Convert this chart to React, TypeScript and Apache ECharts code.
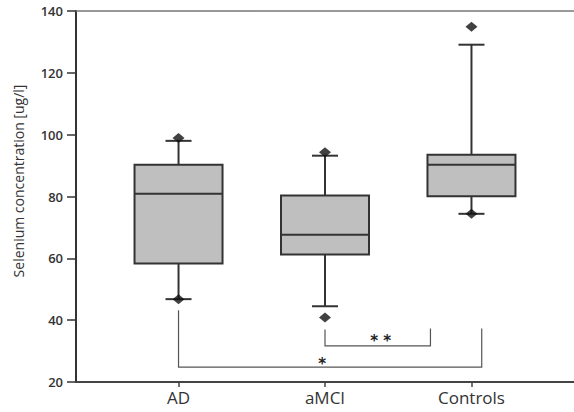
import React, { useEffect, useRef } from "react";
import * as echarts from "echarts";

const categories = ["AD", "aMCI", "Controls"];
// [position, min, Q1, median, Q3, max]
const boxStats = [
  [0, 46.8, 58.3, 80.9, 90.3, 98.0],
  [1, 44.5, 61.2, 67.6, 80.3, 93.2],
  [2, 74.4, 80.1, 90.3, 93.5, 129.1],
];
// diamond markers [position, value]
const diamonds = [
  [0, 98.9],
  [0, 46.8],
  [1, 94.3],
  [1, 40.9],
  [2, 134.9],
  [2, 74.4],
];
// significance brackets [xLeft, xRight, yLeftTop, yBottom, yRightTop]
const brackets = [
  [0, 2.07, 43.2, 24.8, 37.3],
  [1, 1.72, 37.0, 31.7, 37.3],
];
const starLabels = ["*", "* *"];
const starPositions = [
  [0.98, 25.8],
  [1.38, 33.2],
];
const yTicks = [20, 40, 60, 80, 100, 120, 140];

export default function App() {
  const ref = useRef<HTMLDivElement>(null);
  useEffect(() => {
    if (!ref.current) return;
    const chart = echarts.init(ref.current, null, { renderer: "svg" });
    const dark = "#333";
    chart.setOption({
      animation: false,
      grid: { left: 76, right: 0, top: 11, bottom: 30, containLabel: false },
      xAxis: [
        {
          type: "value",
          min: -0.7,
          max: 2.7,
          splitLine: { show: false },
          axisLine: { show: true, onZero: false, lineStyle: { color: "#444", width: 2 } },
          axisTick: {
            show: true,
            customValues: [0, 1, 2],
            length: 5,
            lineStyle: { color: "#444", width: 1.5 },
          },
          axisLabel: {
            customValues: [0, 1, 2],
            formatter: (v: number) => categories[Math.round(v)] ?? "",
            fontFamily: "Open Sans",
            fontSize: 17,
            color: dark,
            margin: 7,
          },
        },
        {
          type: "value",
          position: "top",
          min: -0.7,
          max: 2.7,
          splitLine: { show: false },
          axisLine: { show: true, onZero: false, lineStyle: { color: "#777", width: 1.5 } },
          axisTick: { show: false },
          axisLabel: { show: false },
        },
      ],
      yAxis: {
        type: "value",
        min: 20,
        max: 140,
        interval: 20,
        splitLine: { show: false },
        axisLine: { show: true, onZero: false, lineStyle: { color: "#333", width: 2 } },
        axisTick: { show: true, length: 9, lineStyle: { color: "#333", width: 1.5 } },
        axisLabel: {
          fontFamily: "Open Sans",
          fontSize: 13,
          fontWeight: 600,
          color: "#333",
          margin: 13,
          customValues: yTicks,
        },
      },
      graphic: [
        {
          type: "text",
          x: 18,
          y: 181,
          rotation: Math.PI / 2,
          style: {
            text: "Selenium concentration [ug/l]",
            fontFamily: "Open Sans",
            fontSize: 14,
            fill: "#333",
            align: "center",
            verticalAlign: "middle",
          },
        },
      ],
      series: [
        {
          type: "custom",
          data: boxStats,
          encode: { x: 0, y: [1, 2, 3, 4, 5] },
          renderItem: (params: any, api: any) => {
            const x = api.value(0);
            const p = (v: number) => api.coord([x, v]);
            const cx = p(api.value(1))[0];
            const yMin = p(api.value(1))[1];
            const yQ1 = p(api.value(2))[1];
            const yMed = p(api.value(3))[1];
            const yQ3 = p(api.value(4))[1];
            const yMax = p(api.value(5))[1];
            const half = 44;
            const cap = 13;
            const ls = { stroke: "#333", lineWidth: 2 };
            return {
              type: "group",
              children: [
                { type: "line", shape: { x1: cx, y1: yMax, x2: cx, y2: yQ3 }, style: ls },
                { type: "line", shape: { x1: cx, y1: yQ1, x2: cx, y2: yMin }, style: ls },
                { type: "line", shape: { x1: cx - cap, y1: yMax, x2: cx + cap, y2: yMax }, style: ls },
                { type: "line", shape: { x1: cx - cap, y1: yMin, x2: cx + cap, y2: yMin }, style: ls },
                {
                  type: "rect",
                  shape: { x: cx - half, y: yQ3, width: half * 2, height: yQ1 - yQ3 },
                  style: { fill: "#bfbfbf", stroke: "#333", lineWidth: 2 },
                },
                { type: "line", shape: { x1: cx - half, y1: yMed, x2: cx + half, y2: yMed }, style: ls },
              ],
            };
          },
          z: 2,
        },
        {
          type: "scatter",
          data: diamonds,
          symbol: "diamond",
          symbolSize: [12, 10],
          itemStyle: { color: "#111" },
          z: 3,
        },
        {
          type: "custom",
          data: brackets,
          encode: { x: [0, 1], y: [2, 3, 4] },
          renderItem: (params: any, api: any) => {
            const a = api.coord([api.value(0), api.value(2)]);
            const b = api.coord([api.value(0), api.value(3)]);
            const c = api.coord([api.value(1), api.value(3)]);
            const d = api.coord([api.value(1), api.value(4)]);
            return {
              type: "polyline",
              shape: { points: [a, b, c, d] },
              style: { stroke: "#555", lineWidth: 1.2, fill: "none" },
            };
          },
        },
        {
          type: "custom",
          data: starPositions,
          encode: { x: 0, y: 1 },
          renderItem: (params: any, api: any) => {
            const pt = api.coord([api.value(0), api.value(1)]);
            return {
              type: "text",
              x: pt[0],
              y: pt[1],
              style: {
                text: starLabels[params.dataIndex],
                fontFamily: "DejaVu Sans",
                fontSize: 15,
                fontWeight: "bold",
                fill: "#222",
                align: "center",
                verticalAlign: "middle",
              },
            };
          },
        },
      ],
    });
    return () => chart.dispose();
  }, []);
  return <div ref={ref} style={{ width: 574, height: 412, position: "absolute", left: 0, top: 0 }} />;
}
